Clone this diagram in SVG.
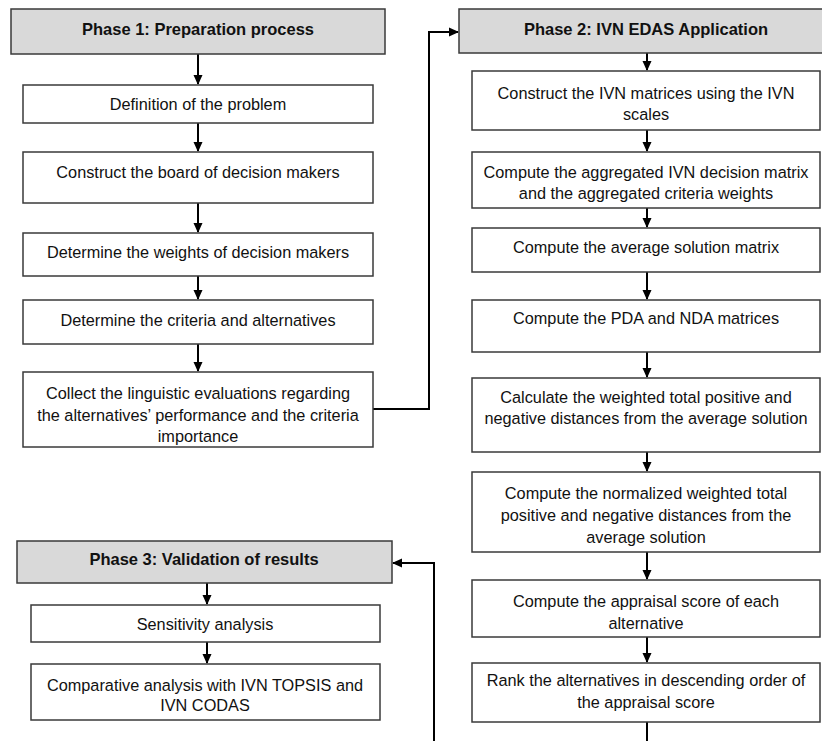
<svg xmlns="http://www.w3.org/2000/svg" width="822" height="741" viewBox="0 0 822 741">
<style>
.box{fill:#ffffff;stroke:#3a3a3a;stroke-width:1.5}
.hdr{fill:#d9d9d9;stroke:#3a3a3a;stroke-width:1.5}
.t{font-family:"Liberation Sans",Arial,sans-serif;font-size:16.3px;fill:#111;text-anchor:middle;dominant-baseline:central}
.h{font-family:"Liberation Sans",Arial,sans-serif;font-size:16.5px;font-weight:bold;fill:#111;text-anchor:middle;dominant-baseline:central}
.c{fill:none;stroke:#000;stroke-width:2}
</style>
<defs>
<marker id="ar" markerWidth="10" markerHeight="10" refX="9" refY="5" orient="auto" markerUnits="userSpaceOnUse">
<path d="M0,0.5 L10,5 L0,9.5 z" fill="#000"/>
</marker>
</defs>
<rect width="822" height="741" fill="#ffffff"/>

<g id="connectors">
<line class="c" x1="198" y1="54" x2="198" y2="84" marker-end="url(#ar)"/>
<line class="c" x1="198" y1="123" x2="198" y2="151" marker-end="url(#ar)"/>
<line class="c" x1="198" y1="203" x2="198" y2="232" marker-end="url(#ar)"/>
<line class="c" x1="198" y1="276" x2="198" y2="299" marker-end="url(#ar)"/>
<line class="c" x1="198" y1="344" x2="198" y2="371" marker-end="url(#ar)"/>
<polyline class="c" points="373,409 429,409 429,32 458,32" marker-end="url(#ar)"/>
<line class="c" x1="647" y1="53" x2="647" y2="70" marker-end="url(#ar)"/>
<line class="c" x1="647" y1="130" x2="647" y2="151" marker-end="url(#ar)"/>
<line class="c" x1="647" y1="208" x2="647" y2="227" marker-end="url(#ar)"/>
<line class="c" x1="647" y1="272" x2="647" y2="299" marker-end="url(#ar)"/>
<line class="c" x1="647" y1="352" x2="647" y2="377" marker-end="url(#ar)"/>
<line class="c" x1="647" y1="452" x2="647" y2="471" marker-end="url(#ar)"/>
<line class="c" x1="647" y1="552" x2="647" y2="579" marker-end="url(#ar)"/>
<line class="c" x1="647" y1="637" x2="647" y2="662" marker-end="url(#ar)"/>
<line class="c" x1="647" y1="722" x2="647" y2="741"/>
<polyline class="c" points="434,741 434,563 393,563" marker-end="url(#ar)"/>
<line class="c" x1="207" y1="583" x2="207" y2="604" marker-end="url(#ar)"/>
<line class="c" x1="207" y1="642" x2="207" y2="663" marker-end="url(#ar)"/>
</g>

<g id="phase1">
<rect class="hdr" x="11" y="9" width="374" height="45"/>
<text class="h" x="198" y="29">Phase 1: Preparation process</text>
</g>
<g id="definition">
<rect class="box" x="23" y="85" width="350" height="38"/>
<text class="t" x="198" y="104">Definition of the problem</text>
</g>
<g id="board">
<rect class="box" x="23" y="152" width="350" height="51"/>
<text class="t" x="198" y="172">Construct the board of decision makers</text>
</g>
<g id="weights">
<rect class="box" x="23" y="233" width="350" height="43"/>
<text class="t" x="198" y="252">Determine the weights of decision makers</text>
</g>
<g id="criteria">
<rect class="box" x="23" y="300" width="350" height="44"/>
<text class="t" x="198" y="320">Determine the criteria and alternatives</text>
</g>
<g id="collect">
<rect class="box" x="23" y="372" width="350" height="75"/>
<text class="t" x="198" y="393">Collect the linguistic evaluations regarding</text>
<text class="t" x="198" y="415">the alternatives’ performance and the criteria</text>
<text class="t" x="198" y="436">importance</text>
</g>

<g id="phase2">
<rect class="hdr" x="459" y="9" width="370" height="44"/>
<text class="h" x="646" y="29">Phase 2: IVN EDAS Application</text>
</g>
<g id="ivn-matrices">
<rect class="box" x="472" y="71" width="348" height="59"/>
<text class="t" x="646" y="93">Construct the IVN matrices using the IVN</text>
<text class="t" x="646" y="114">scales</text>
</g>
<g id="aggregated">
<rect class="box" x="472" y="152" width="348" height="56"/>
<text class="t" x="646" y="172">Compute the aggregated IVN decision matrix</text>
<text class="t" x="646" y="193">and the aggregated criteria weights</text>
</g>
<g id="average">
<rect class="box" x="472" y="228" width="348" height="44"/>
<text class="t" x="646" y="247">Compute the average solution matrix</text>
</g>
<g id="pda-nda">
<rect class="box" x="472" y="300" width="348" height="52"/>
<text class="t" x="646" y="318">Compute the PDA and NDA matrices</text>
</g>
<g id="weighted-total">
<rect class="box" x="472" y="378" width="348" height="74"/>
<text class="t" x="646" y="397">Calculate the weighted total positive and</text>
<text class="t" x="646" y="418">negative distances from the average solution</text>
</g>
<g id="normalized">
<rect class="box" x="472" y="472" width="348" height="80"/>
<text class="t" x="646" y="493">Compute the normalized weighted total</text>
<text class="t" x="646" y="515">positive and negative distances from the</text>
<text class="t" x="646" y="537">average solution</text>
</g>
<g id="appraisal">
<rect class="box" x="472" y="580" width="348" height="57"/>
<text class="t" x="646" y="601">Compute the appraisal score of each</text>
<text class="t" x="646" y="623">alternative</text>
</g>
<g id="rank">
<rect class="box" x="472" y="663" width="348" height="59"/>
<text class="t" x="646" y="680">Rank the alternatives in descending order of</text>
<text class="t" x="646" y="702">the appraisal score</text>
</g>

<g id="phase3">
<rect class="hdr" x="17" y="541" width="375" height="42"/>
<text class="h" x="204" y="559">Phase 3: Validation of results</text>
</g>
<g id="sensitivity">
<rect class="box" x="31" y="605" width="349" height="37"/>
<text class="t" x="205" y="624">Sensitivity analysis</text>
</g>
<g id="comparative">
<rect class="box" x="31" y="664" width="349" height="56"/>
<text class="t" x="205" y="685">Comparative analysis with IVN TOPSIS and</text>
<text class="t" x="205" y="705">IVN CODAS</text>
</g>
</svg>
